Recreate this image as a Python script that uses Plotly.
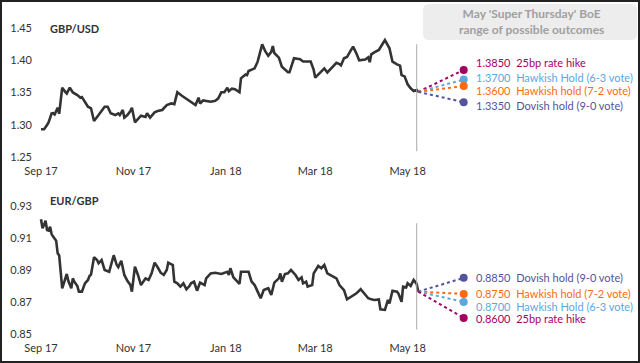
import pandas as pd
import plotly.graph_objects as go

# ---------------- data ----------------
base = pd.Timestamp("2017-09-01")

usd_day = [0, 2, 4, 5, 7, 8, 9, 11, 12, 14, 16, 17, 19, 21, 24, 26, 27, 29, 31, 33,
           35, 38, 40, 42, 44, 46, 49, 51, 52, 54, 55, 57, 59, 60, 62, 64, 66, 69, 70, 72,
           73, 75, 77, 80, 83, 86, 88, 90, 93, 95, 97, 99, 102, 104, 105, 107, 109, 112, 115, 117,
           119, 121, 123, 124, 126, 128, 131, 132, 135, 136, 137, 139, 141, 143, 145, 146, 148, 150, 152, 153,
           154, 157, 159, 161, 163, 164, 167, 171, 173, 178, 180, 181, 183, 185, 187, 189, 191, 193, 195, 197,
           198, 200, 202, 204, 206, 208, 210, 214, 216, 217, 218, 220, 223, 225, 227, 230, 232, 235, 237, 238,
           240, 242, 244, 246, 248, 249]
usd_val = [1.293, 1.293, 1.2996, 1.3037, 1.3177, 1.318, 1.316, 1.3265, 1.317, 1.3575, 1.351, 1.3485, 1.3575, 1.350, 1.346, 1.342, 1.343, 1.3357, 1.328, 1.3255,
           1.3058, 1.315, 1.3213, 1.328, 1.328, 1.3177, 1.315, 1.3177, 1.315, 1.3229, 1.311, 1.315, 1.3213, 1.3265, 1.3037, 1.309, 1.314, 1.312, 1.3177, 1.311,
           1.314, 1.3193, 1.3213, 1.3229, 1.3306, 1.333, 1.332, 1.3503, 1.345, 1.342, 1.3378, 1.3357, 1.3306, 1.342, 1.333, 1.3378, 1.337, 1.3357, 1.337, 1.341,
           1.3503, 1.3503, 1.3575, 1.352, 1.356, 1.355, 1.3503, 1.372, 1.378, 1.377, 1.3833, 1.385, 1.3874, 1.3978, 1.4133, 1.4246, 1.414, 1.407, 1.413, 1.422,
           1.4112, 1.404, 1.390, 1.385, 1.3813, 1.3813, 1.403, 1.4015, 1.398, 1.398, 1.385, 1.373, 1.378, 1.3833, 1.3874, 1.381, 1.386, 1.390, 1.396, 1.394,
           1.392, 1.403, 1.405, 1.4133, 1.421, 1.4115, 1.400, 1.401, 1.4045, 1.397, 1.4092, 1.4123, 1.4159, 1.4237, 1.4314, 1.4185, 1.3977, 1.3935, 1.3916, 1.377,
           1.375, 1.3627, 1.3565, 1.3523, 1.354, 1.351]

eur_day = [0, 1, 2, 3, 4, 5, 6, 7, 8, 10, 11, 12, 14, 15, 17, 18, 20, 21, 22, 24,
           25, 27, 29, 31, 32, 33, 35, 37, 38, 40, 42, 45, 46, 48, 50, 51, 53, 55, 57, 59,
           60, 62, 64, 65, 66, 69, 71, 73, 75, 77, 79, 81, 83, 84, 87, 88, 90, 92, 94, 96,
           98, 99, 101, 103, 105, 108, 109, 112, 115, 119, 123, 124, 125, 127, 129, 131, 132, 137, 139, 141,
           143, 145, 147, 150, 152, 154, 157, 158, 159, 161, 163, 165, 168, 170, 172, 173, 175, 176, 179, 180,
           183, 185, 187, 189, 192, 195, 197, 200, 202, 205, 207, 208, 211, 214, 216, 218, 220, 223, 224, 227,
           229, 230, 232, 235, 236, 238, 239, 241, 242, 244, 246, 248, 249]
eur_val = [0.9215, 0.9159, 0.918, 0.9206, 0.9148, 0.9145, 0.9169, 0.9123, 0.9107, 0.9082, 0.9003, 0.899, 0.8785, 0.8812, 0.8874, 0.8832, 0.8785, 0.8847, 0.8826, 0.8799,
           0.8764, 0.8764, 0.8816, 0.8837, 0.8862, 0.887, 0.8978, 0.8961, 0.8941, 0.8961, 0.8899, 0.8888, 0.8924, 0.8991, 0.8930, 0.8917, 0.8957, 0.8868, 0.8832, 0.8805,
           0.8764, 0.8920, 0.8868, 0.8837, 0.8805, 0.8847, 0.8837, 0.8878, 0.8945, 0.8916, 0.8882, 0.8868, 0.8899, 0.8945, 0.8930, 0.8826, 0.8816, 0.8795, 0.8816, 0.8779,
           0.8799, 0.8816, 0.8826, 0.877, 0.8821, 0.8805, 0.8847, 0.8878, 0.8882, 0.8874, 0.8888, 0.8868, 0.8910, 0.8853, 0.8832, 0.8812, 0.8888, 0.8888, 0.8826, 0.8805,
           0.8764, 0.8723, 0.8774, 0.8785, 0.8743, 0.8820, 0.8847, 0.8878, 0.8826, 0.8874, 0.8878, 0.8899, 0.8868, 0.8837, 0.8853, 0.8816, 0.8826, 0.8795, 0.8805, 0.8878,
           0.8924, 0.8910, 0.8930, 0.8878, 0.8862, 0.8847, 0.8805, 0.8774, 0.8716, 0.8733, 0.8743, 0.8752, 0.8779, 0.8749, 0.8723, 0.8716, 0.8712, 0.8716, 0.8654, 0.8650,
           0.8712, 0.8690, 0.8770, 0.8764, 0.875, 0.8701, 0.8795, 0.8790, 0.8816, 0.880, 0.8837, 0.8812, 0.8764]

tick_dates = ["2017-09-01", "2017-11-01", "2018-01-01", "2018-03-01", "2018-05-01"]
tick_text = ["Sep 17", "Nov 17", "Jan 18", "Mar 18", "May 18"]
usd_ticks = [1.25, 1.30, 1.35, 1.40, 1.45]
eur_ticks = [0.85, 0.87, 0.89, 0.91, 0.93]

meeting_date = "2018-05-07"     # vertical marker line
outcome_date = "2018-06-07"     # where outcome dots sit

usd_outcomes = [1.3850, 1.3700, 1.3600, 1.3350]
usd_labels = ["25bp rate hike", "Hawkish Hold (6-3 vote)", "Hawkish hold (7-2 vote)", "Dovish hold (9-0 vote)"]
eur_outcomes = [0.8850, 0.8750, 0.8700, 0.8600]
eur_labels = ["Dovish hold (9-0 vote)", "Hawkish hold (7-2 vote)", "Hawkish Hold (6-3 vote)", "25bp rate hike"]

# ---------------- styles ----------------
MAG, LBLUE, ORANGE, PURPLE = "#A6005E", "#5CA8DE", "#FF6A10", "#54539D"
usd_colors = [MAG, LBLUE, ORANGE, PURPLE]
eur_colors = [PURPLE, ORANGE, LBLUE, MAG]
usd_yshift = [7, 2, -4, -3]
eur_yshift = [0, 0, -5, -1]
FONT = "Lato"
W, H = 640, 363


def py(p):
    return 1 - p / H


usd_dates = [base + pd.Timedelta(days=d) for d in usd_day]
eur_dates = [base + pd.Timedelta(days=d) for d in eur_day]
x_start = base - pd.Timedelta(days=(41 - 33) / 1.515)
x_end = base + pd.Timedelta(days=(640 - 41) / 1.515)

fig = go.Figure()

fig.add_trace(go.Scatter(x=usd_dates, y=usd_val, mode="lines", xaxis="x", yaxis="y",
                         line=dict(color="#333333", width=2.6), showlegend=False, hoverinfo="skip"))
fig.add_trace(go.Scatter(x=eur_dates, y=eur_val, mode="lines", xaxis="x2", yaxis="y2",
                         line=dict(color="#333333", width=2.6), showlegend=False, hoverinfo="skip"))

annotations = []
for vals, labels, colors, shifts, dates, series, xa, ya in [
    (usd_outcomes, usd_labels, usd_colors, usd_yshift, usd_dates, usd_val, "x", "y"),
    (eur_outcomes, eur_labels, eur_colors, eur_yshift, eur_dates, eur_val, "x2", "y2"),
]:
    for v, lab, c, s in zip(vals, labels, colors, shifts):
        fig.add_trace(go.Scatter(x=[dates[-1], outcome_date], y=[series[-1], v], mode="lines",
                                 xaxis=xa, yaxis=ya, line=dict(color=c, width=2, dash="dot"),
                                 showlegend=False, hoverinfo="skip"))
        fig.add_trace(go.Scatter(x=[outcome_date], y=[v], mode="markers", xaxis=xa, yaxis=ya,
                                 marker=dict(color=c, size=8), showlegend=False, hoverinfo="skip"))
        annotations.append(dict(x=outcome_date, y=v, xref=xa, yref=ya, xanchor="left", yanchor="middle",
                                xshift=10, yshift=s, showarrow=False,
                                text=f"{v:.4f}\u00a0\u00a0{lab}", font=dict(family=FONT, size=11, color=c)))

annotations += [
    dict(x=48 / W, y=py(28), xref="paper", yref="paper", xanchor="left", yanchor="middle", showarrow=False,
         text="<b>GBP/USD</b>", font=dict(family=FONT, size=11, color="#333333")),
    dict(x=48 / W, y=py(200), xref="paper", yref="paper", xanchor="left", yanchor="middle", showarrow=False,
         text="<b>EUR/GBP</b>", font=dict(family=FONT, size=11, color="#333333")),
    dict(x=531 / W, y=py(22), xref="paper", yref="paper", xanchor="center", yanchor="middle", showarrow=False,
         text="<b>May 'Super Thursday' BoE<br>range of possible outcomes</b>",
         font=dict(family=FONT, size=12, color="#A0A0A0")),
]

# rounded grey box path (paper coords)
bx0, bx1, by0, by1, r = 423 / W, 637 / W, py(40), py(4), 6
rx, ry = r / W, r / H
box_path = (f"M {bx0+rx},{by1} L {bx1-rx},{by1} Q {bx1},{by1} {bx1},{by1-ry} "
            f"L {bx1},{by0+ry} Q {bx1},{by0} {bx1-rx},{by0} L {bx0+rx},{by0} "
            f"Q {bx0},{by0} {bx0},{by0+ry} L {bx0},{by1-ry} Q {bx0},{by1} {bx0+rx},{by1} Z")

shapes = [
    dict(type="path", path=box_path, xref="paper", yref="paper", fillcolor="#EDEDED", line=dict(width=0), layer="below"),
    dict(type="line", xref="x", yref="y domain", x0=meeting_date, x1=meeting_date, y0=0.09, y1=0.88,
         line=dict(color="#AAAAAA", width=1)),
    dict(type="line", xref="x2", yref="y2 domain", x0=meeting_date, x1=meeting_date, y0=0.08, y1=0.87,
         line=dict(color="#AAAAAA", width=1)),
    dict(type="rect", xref="paper", yref="paper", x0=0, x1=1, y0=0, y1=1,
         line=dict(color="#222222", width=4)),
]

xcommon = dict(type="date", range=[x_start, x_end], domain=[33 / W, 1], tickvals=tick_dates, ticktext=tick_text,
               showgrid=False, zeroline=False, showline=False, ticks="", fixedrange=True, automargin=False,
               tickfont=dict(family=FONT, size=11, color="#333333"))

fig.update_layout(
    width=W, height=H, margin=dict(l=0, r=0, t=0, b=0, autoexpand=False),
    paper_bgcolor="white", plot_bgcolor="white",
    xaxis=dict(**xcommon, anchor="y"),
    xaxis2=dict(**xcommon, anchor="y2"),
    yaxis=dict(range=[1.24, 1.45], domain=[py(163.45), py(28)], tickvals=usd_ticks, tickformat=".2f",
               showgrid=False, zeroline=False, showline=False, ticks="", anchor="x", automargin=False,
               tickfont=dict(family=FONT, size=11, color="#333333")),
    yaxis2=dict(range=[0.846, 0.93], domain=[py(340.4), py(205.7)], tickvals=eur_ticks, tickformat=".2f",
                showgrid=False, zeroline=False, showline=False, ticks="", anchor="x2", automargin=False,
                tickfont=dict(family=FONT, size=11, color="#333333")),
    annotations=annotations, shapes=shapes, showlegend=False,
)

fig.write_html("out.html", config={"displayModeBar": False},
               post_script="document.body.style.margin='0';document.body.style.overflow='hidden';")
